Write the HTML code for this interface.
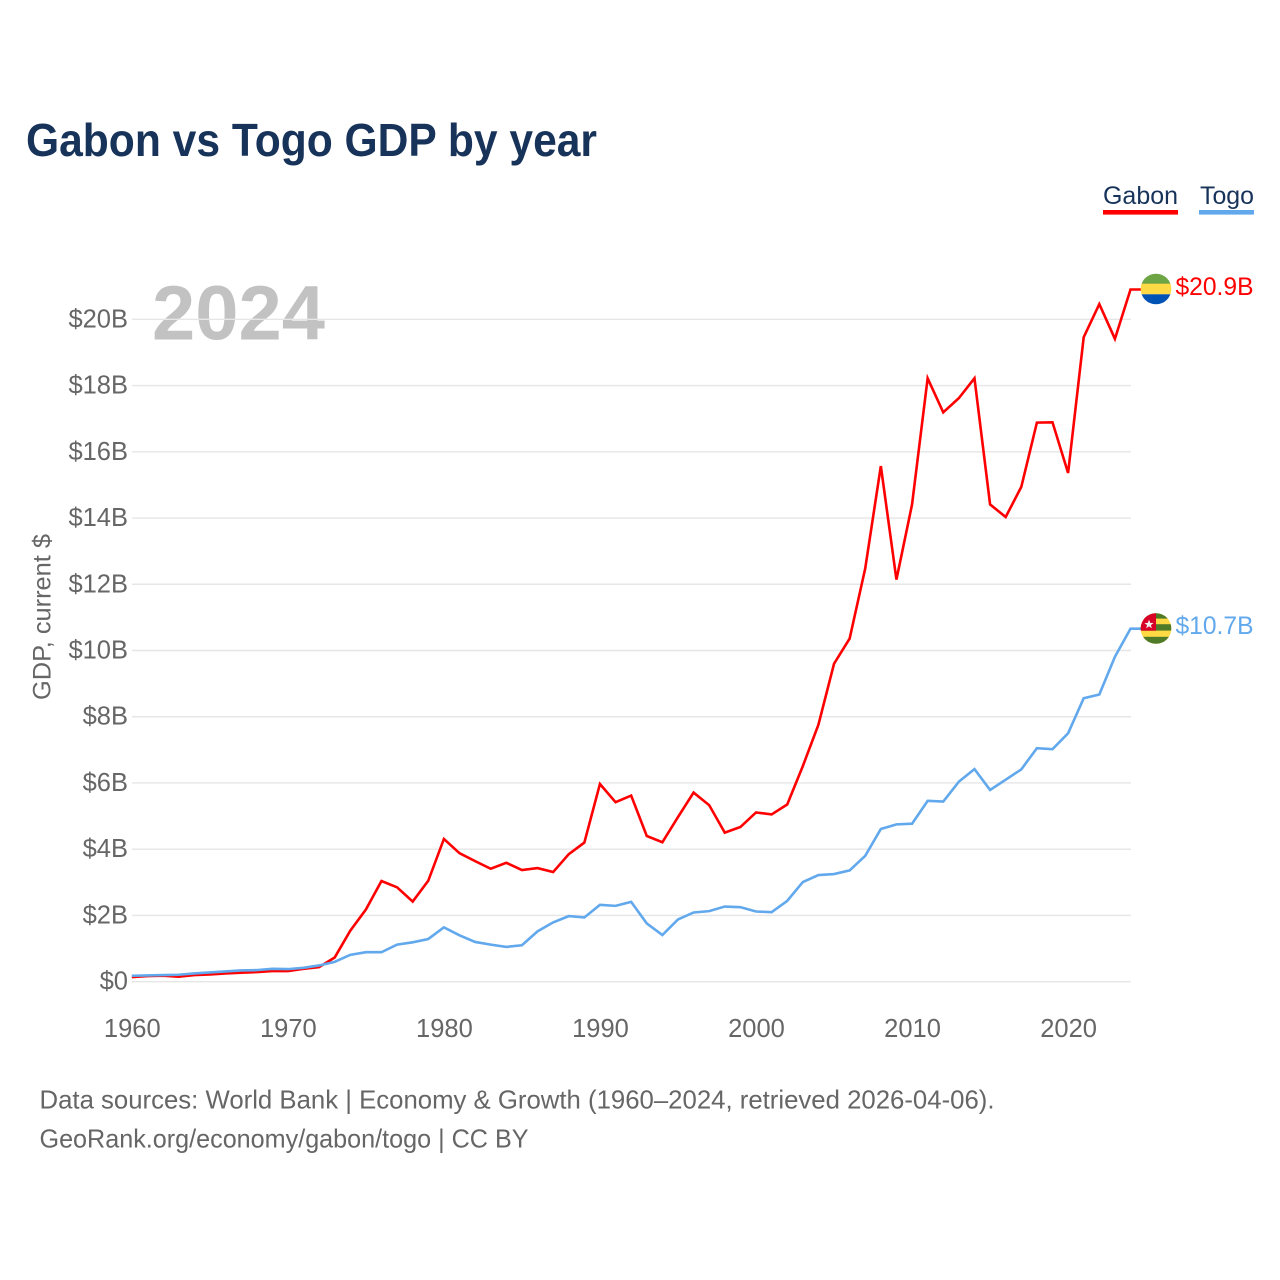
<!DOCTYPE html>
<html lang="en">
<head>
<meta charset="utf-8">
<title>Gabon vs Togo GDP by year</title>
<style>
html,body{margin:0;padding:0;background:#fff;width:1280px;height:1280px;overflow:hidden}
svg{display:block;font-family:"Liberation Sans",sans-serif}
</style>
</head>
<body>
<svg id="chart" xmlns="http://www.w3.org/2000/svg" width="1280" height="1280" viewBox="0 0 1280 1280">
  <rect width="1280" height="1280" fill="#fff"/>
  <text x="26" y="156" font-size="46" font-weight="700" fill="#17335a" textLength="571" lengthAdjust="spacingAndGlyphs">Gabon vs Togo GDP by year</text>

  <g>
    <g>
      <text x="1103" y="204" font-size="25" fill="#17335a" textLength="75" lengthAdjust="spacingAndGlyphs">Gabon</text>
      <rect x="1103" y="210" width="75" height="4.6" fill="#ff0000"/>
    </g>
    <g>
      <text x="1200" y="204" font-size="25" fill="#17335a" textLength="54" lengthAdjust="spacingAndGlyphs">Togo</text>
      <rect x="1199" y="210" width="55" height="4.6" fill="#62a8ec"/>
    </g>
  </g>

  <text x="152" y="339.5" font-size="77" font-weight="700" fill="#c2c2c2" textLength="173" lengthAdjust="spacingAndGlyphs">2024</text>

  <g id="grid"></g>
  <g id="yticks"></g>
  <g id="xticks"></g>
  <text transform="translate(50.5,700) rotate(-90)" font-size="25" fill="#666" textLength="166" lengthAdjust="spacingAndGlyphs">GDP, current $</text>
  <g id="series"></g>

  <defs>
    <clipPath id="clip-gabon"><circle cx="1156" cy="289" r="15.3"/></clipPath>
    <clipPath id="clip-togo"><circle cx="1156" cy="628.5" r="15.3"/></clipPath>
  </defs>
  <g clip-path="url(#clip-gabon)">
    <rect x="1140" y="273" width="32" height="11" fill="#6da544"/>
    <rect x="1140" y="283.7" width="32" height="10.6" fill="#ffda44"/>
    <rect x="1140" y="294.3" width="32" height="11" fill="#0052b4"/>
  </g>
  <g clip-path="url(#clip-togo)">
    <rect x="1140" y="613" width="32" height="32" fill="#ffda44"/>
    <rect x="1140" y="613" width="32" height="5.6" fill="#4f7a28"/>
    <rect x="1140" y="624.2" width="32" height="6.4" fill="#4f7a28"/>
    <rect x="1140" y="636.8" width="32" height="8" fill="#4f7a28"/>
    <rect x="1140" y="613" width="16" height="17.7" fill="#d80027"/>
    <polygon points="1149,619.6 1150.2,622.9 1153.6,623 1150.9,625.1 1151.9,628.4 1149,626.4 1146.1,628.4 1147.1,625.1 1144.4,623 1147.8,622.9" fill="#f0f0f0"/>
  </g>
  <text x="1175.5" y="295" font-size="25" fill="#ff0000" textLength="78" lengthAdjust="spacingAndGlyphs">$20.9B</text>
  <text x="1175.5" y="634" font-size="25" fill="#62a8ec" textLength="78" lengthAdjust="spacingAndGlyphs">$10.7B</text>

  <text x="39.5" y="1108.5" font-size="26" fill="#666" textLength="955" lengthAdjust="spacingAndGlyphs">Data sources: World Bank | Economy &amp; Growth (1960–2024, retrieved 2026-04-06).</text>
  <text x="39.5" y="1147.5" font-size="26" fill="#666" textLength="489" lengthAdjust="spacingAndGlyphs">GeoRank.org/economy/gabon/togo | CC BY</text>
</svg>
<script>
var startYear = 1960;
var gabonValues = [0.14,0.17,0.18,0.15,0.2,0.22,0.25,0.27,0.29,0.32,0.32,0.39,0.44,0.73,1.54,2.18,3.04,2.85,2.42,3.05,4.31,3.88,3.64,3.41,3.59,3.37,3.43,3.31,3.85,4.2,5.97,5.42,5.62,4.4,4.21,4.97,5.71,5.33,4.5,4.67,5.11,5.05,5.35,6.51,7.76,9.6,10.36,12.48,15.57,12.14,14.41,18.22,17.19,17.62,18.22,14.41,14.03,14.94,16.88,16.89,15.36,19.46,20.46,19.41,20.9];
var togoValues = [0.18,0.19,0.2,0.21,0.25,0.28,0.31,0.34,0.35,0.39,0.38,0.42,0.49,0.6,0.81,0.89,0.89,1.12,1.19,1.29,1.64,1.4,1.2,1.12,1.05,1.1,1.52,1.79,1.98,1.94,2.32,2.29,2.41,1.76,1.41,1.88,2.09,2.13,2.27,2.25,2.12,2.1,2.44,3.01,3.22,3.25,3.36,3.8,4.61,4.75,4.77,5.46,5.44,6.04,6.42,5.79,6.1,6.41,7.05,7.02,7.5,8.56,8.67,9.81,10.66];
var yTickValues = [0,2,4,6,8,10,12,14,16,18,20];
var xTickYears = [1960,1970,1980,1990,2000,2010,2020];

var SVG_NS = 'http://www.w3.org/2000/svg';
function xScale(year) { return 131.8 + (year - 1960) * 15.605; }
function yScale(value) { return 981.7 - value * 33.12; }

var grid = document.getElementById('grid');
var yticks = document.getElementById('yticks');
var xticks = document.getElementById('xticks');
var seriesGroup = document.getElementById('series');

yTickValues.forEach(function (v) {
  var line = document.createElementNS(SVG_NS, 'line');
  
  
  line.setAttribute('x1', 132);
  line.setAttribute('x2', 1131);
  line.setAttribute('y1', yScale(v));
  line.setAttribute('y2', yScale(v));
  line.setAttribute('stroke', '#e6e6e6');
  line.setAttribute('stroke-width', 1.4);
  grid.appendChild(line);

  var label = document.createElementNS(SVG_NS, 'text');
  
  
  label.setAttribute('x', 128);
  label.setAttribute('y', yScale(v) + 8);
  label.setAttribute('text-anchor', 'end');
  label.setAttribute('font-size', 25.5);
  label.setAttribute('fill', '#666');
  label.textContent = v === 0 ? '$0' : '$' + v + 'B';
  yticks.appendChild(label);
});

xTickYears.forEach(function (year) {
  var label = document.createElementNS(SVG_NS, 'text');
  
  
  label.setAttribute('x', xScale(year) + 0.5);
  label.setAttribute('y', 1037);
  label.setAttribute('text-anchor', 'middle');
  label.setAttribute('font-size', 25.5);
  label.setAttribute('fill', '#666');
  label.textContent = year;
  xticks.appendChild(label);
});

function seriesPath(values) {
  var d = values.map(function (v, i) {
    return (i ? 'L' : 'M') + xScale(startYear + i).toFixed(2) + ' ' + yScale(v).toFixed(2);
  }).join(' ');
  var lastValue = values[values.length - 1];
  return d + ' L' + xScale(startYear + values.length).toFixed(2) + ' ' + yScale(lastValue).toFixed(2);
}

var gabonLine = document.createElementNS(SVG_NS, 'path');


gabonLine.setAttribute('d', seriesPath(gabonValues));
gabonLine.setAttribute('fill', 'none');
gabonLine.setAttribute('stroke', '#ff0000');
gabonLine.setAttribute('stroke-width', 2.6);
gabonLine.setAttribute('stroke-linejoin', 'miter');
seriesGroup.appendChild(gabonLine);

var togoLine = document.createElementNS(SVG_NS, 'path');


togoLine.setAttribute('d', seriesPath(togoValues));
togoLine.setAttribute('fill', 'none');
togoLine.setAttribute('stroke', '#62a8ec');
togoLine.setAttribute('stroke-width', 2.6);
togoLine.setAttribute('stroke-linejoin', 'miter');
seriesGroup.appendChild(togoLine);
</script>
</body>
</html>
